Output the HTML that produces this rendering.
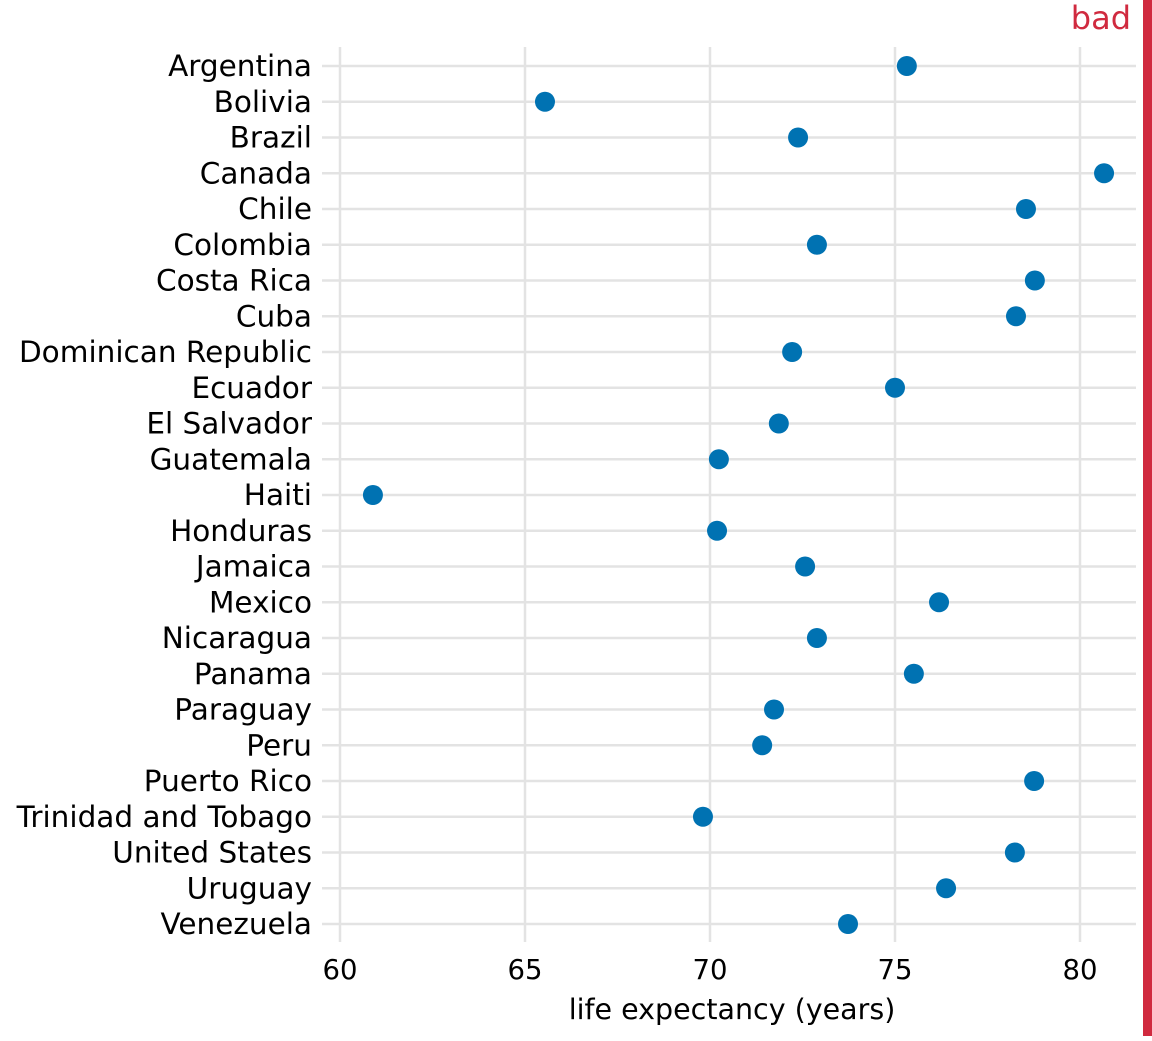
<!DOCTYPE html>
<html><head><meta charset="utf-8"><style>
body{margin:0;background:#fff;width:1152px;height:1036px;overflow:hidden}
svg text{font-family:"DejaVu Sans",sans-serif}
</style></head><body>
<svg id="chart" width="1152" height="1036" xmlns="http://www.w3.org/2000/svg">
<rect x="1143" y="0" width="9" height="1036" fill="#D02A3F"/>
<text x="1131" y="29" text-anchor="end" font-size="32" fill="#D02A3F">bad</text>
<g id="grid"></g><g id="labels"></g><g id="dots"></g>
<text x="732" y="1019" text-anchor="middle" font-size="28.5" fill="#000">life expectancy (years)</text>
</svg>
<script>
const countries=["Argentina","Bolivia","Brazil","Canada","Chile","Colombia","Costa Rica","Cuba","Dominican Republic","Ecuador","El Salvador","Guatemala","Haiti","Honduras","Jamaica","Mexico","Nicaragua","Panama","Paraguay","Peru","Puerto Rico","Trinidad and Tobago","United States","Uruguay","Venezuela"];
const lifeExp=[75.32,65.54,72.38,80.65,78.54,72.89,78.78,78.27,72.22,75.0,71.86,70.24,60.89,70.19,72.57,76.19,72.89,75.51,71.73,71.41,78.76,69.81,78.24,76.38,73.73];
const xTicks=[60,65,70,75,80];
const NS="http://www.w3.org/2000/svg";
const x=v=>340+(v-60)*37;
const y=i=>66+i*35.75;
function mk(tag,attrs,parent){const e=document.createElementNS(NS,tag);for(const k in attrs)e.setAttribute(k,attrs[k]);document.getElementById(parent).appendChild(e);return e;}
xTicks.forEach(t=>{
  const l=mk('line',{x1:x(t),x2:x(t),y1:47,y2:942,stroke:'#e3e3e3','stroke-width':2.5},'grid');
  
  
  const tx=mk('text',{x:x(t),y:979,'text-anchor':'middle','font-size':27.5,fill:'#000'},'labels');
  tx.textContent=t;
  
  
});
countries.forEach((c,i)=>{
  const l=mk('line',{x1:322,x2:1136,y1:y(i),y2:y(i),stroke:'#e3e3e3','stroke-width':2.5},'grid');
  
  
  const tx=mk('text',{x:312,y:y(i)+10,'text-anchor':'end','font-size':29.5,fill:'#000'},'labels');
  tx.textContent=c;
  
  
  const d=mk('circle',{cx:x(lifeExp[i]),cy:y(i),r:10,fill:'#0072B2'},'dots');
  
  
});
</script>
</body></html>
